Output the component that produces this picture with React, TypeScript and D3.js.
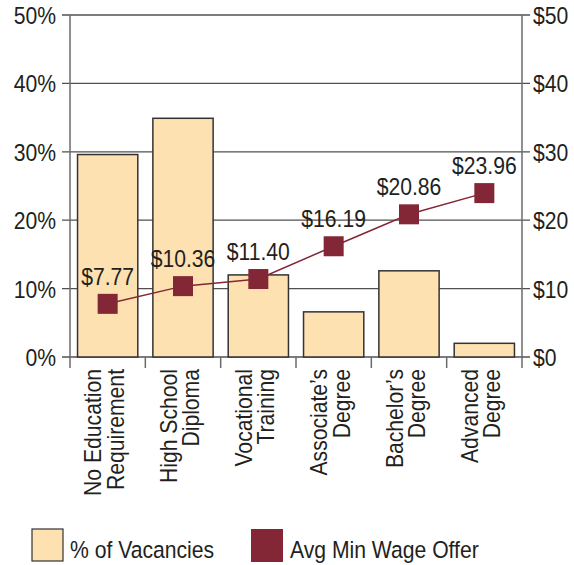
import React from 'react';
import * as d3 from 'd3';

const categories = [
  'No Education|Requirement',
  'High School|Diploma',
  'Vocational|Training',
  'Associate’s|Degree',
  'Bachelor’s|Degree',
  'Advanced|Degree',
];
const vacancyPct = [29.6, 34.9, 12.0, 6.6, 12.6, 2.0];
const minWage = [7.77, 10.36, 11.4, 16.19, 20.86, 23.96];
const leftTicks = [0, 10, 20, 30, 40, 50];
const rightTicks = [0, 10, 20, 30, 40, 50];

const BAR_FILL = '#fde1b1';
const WAGE = '#832635';
const TEXT = '#231f20';
const FONT = '"Liberation Sans", Arial, sans-serif';
const FS = 23.5;
// the original type is a bit narrower than Arial
const SX = 0.9;

type Sel = d3.Selection<SVGGElement, unknown, null, undefined>;

function label(g: Sel, x: number, y: number, text: string, anchor = 'start', rot = 0) {
  return g
    .append('text')
    .attr('transform', `translate(${x},${y}) rotate(${rot}) scale(${SX},1)`)
    .attr('text-anchor', anchor)
    .attr('font-family', FONT)
    .attr('font-size', FS)
    .attr('fill', TEXT)
    .text(text);
}

function drawChart(el: SVGSVGElement) {
  const svg = d3.select(el);
  svg.selectAll('*').remove();
  const root = svg.append('g') as unknown as Sel;

  const left = 70;
  const right = 522;
  const top = 15;
  const bottom = 357;

  const x = d3
    .scaleBand<string>()
    .domain(categories)
    .range([left, right])
    .paddingInner(0.2)
    .paddingOuter(0.1);
  const yPct = d3.scaleLinear([0, 50], [bottom, top]);
  const yWage = d3.scaleLinear([0, 50], [bottom, top]);
  const cx = (c: string) => (x(c) as number) + x.bandwidth() / 2;

  // gridlines with outside ticks on both sides
  root
    .append('g')
    .selectAll('line')
    .data(leftTicks)
    .enter()
    .append('line')
    .attr('x1', left - 8)
    .attr('x2', right + 8)
    .attr('y1', (d) => yPct(d))
    .attr('y2', (d) => yPct(d))
    .attr('stroke', '#505050')
    .attr('stroke-width', 1.3);

  // bars
  root
    .append('g')
    .selectAll('rect')
    .data(vacancyPct)
    .enter()
    .append('rect')
    .attr('x', (_, i) => x(categories[i]) as number)
    .attr('y', (d) => yPct(d))
    .attr('width', x.bandwidth())
    .attr('height', (d) => bottom - yPct(d))
    .attr('fill', BAR_FILL)
    .attr('stroke', '#333')
    .attr('stroke-width', 1.5);

  // axis lines
  [left, right].forEach((ax) => {
    root
      .append('line')
      .attr('x1', ax)
      .attr('x2', ax)
      .attr('y1', top)
      .attr('y2', bottom + 11)
      .attr('stroke', '#6b6b6b')
      .attr('stroke-width', 1.5);
  });

  // category separator ticks
  root
    .append('g')
    .selectAll('line')
    .data(d3.range(1, categories.length))
    .enter()
    .append('line')
    .attr('x1', (i) => left + i * x.step())
    .attr('x2', (i) => left + i * x.step())
    .attr('y1', bottom)
    .attr('y2', bottom + 11)
    .attr('stroke', '#6b6b6b')
    .attr('stroke-width', 1.5);

  // axis labels
  leftTicks.forEach((d) => label(root, left - 14, yPct(d) + 9, `${d}%`, 'end'));
  rightTicks.forEach((d) => label(root, right + 11, yWage(d) + 9, `$${d}`, 'start'));

  // category labels, rotated, two lines each
  categories.forEach((c) => {
    c.split('|').forEach((t, i) => {
      label(root, cx(c) - 6.5 + i * 22.5, bottom + 12, t, 'end', -90);
    });
  });

  // wage line
  const line = d3
    .line<number>()
    .x((_, i) => cx(categories[i]))
    .y((d) => yWage(d));
  root
    .append('path')
    .datum(minWage)
    .attr('d', line)
    .attr('fill', 'none')
    .attr('stroke', WAGE)
    .attr('stroke-width', 1.5);

  const size = 20;
  root
    .append('g')
    .selectAll('rect')
    .data(minWage)
    .enter()
    .append('rect')
    .attr('x', (_, i) => cx(categories[i]) - size / 2)
    .attr('y', (d) => yWage(d) - size / 2)
    .attr('width', size)
    .attr('height', size)
    .attr('fill', WAGE);

  minWage.forEach((d, i) =>
    label(root, cx(categories[i]), yWage(d) - 19, `$${d.toFixed(2)}`, 'middle'),
  );

  // legend
  root
    .append('rect')
    .attr('x', 32)
    .attr('y', 529)
    .attr('width', 31)
    .attr('height', 32)
    .attr('fill', BAR_FILL)
    .attr('stroke', '#333')
    .attr('stroke-width', 1.2);
  label(root, 70, 558, '% of Vacancies');
  root
    .append('rect')
    .attr('x', 251)
    .attr('y', 529)
    .attr('width', 32)
    .attr('height', 33)
    .attr('fill', WAGE);
  label(root, 290, 558, 'Avg Min Wage Offer');
}

export default function App() {
  const ref = React.useRef<SVGSVGElement>(null);
  React.useEffect(() => {
    if (ref.current) drawChart(ref.current);
  }, []);

  return (
    <svg
      ref={ref}
      width={574}
      height={565}
      style={{ position: 'absolute', left: 0, top: 0, background: '#fff' }}
    />
  );
}
